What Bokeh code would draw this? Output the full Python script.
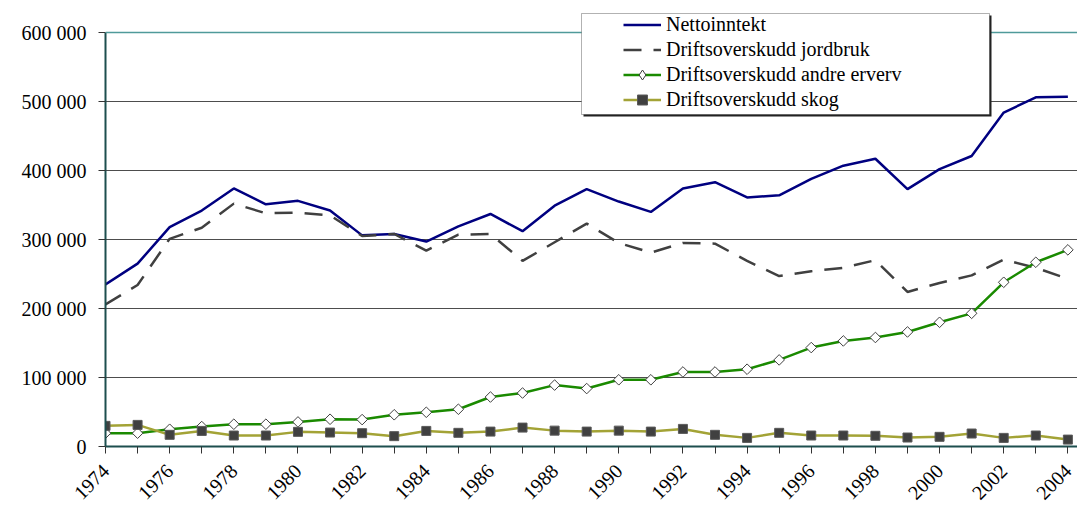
from math import pi
from bokeh.plotting import figure
from bokeh.models import (Range1d, FixedTicker, Span, Legend, LegendItem,
                          BoxAnnotation, ColumnDataSource)
from bokeh.embed import file_html
from bokeh.resources import INLINE

years = [1974, 1975, 1976, 1977, 1978, 1979, 1980, 1981, 1982, 1983, 1984,
         1985, 1986, 1987, 1988, 1989, 1990, 1991, 1992, 1993, 1994, 1995,
         1996, 1997, 1998, 1999, 2000, 2001, 2002, 2003, 2004]

nettoinntekt = [235000, 265000, 318000, 342000, 374000, 351000, 356000, 342000,
                306000, 308000, 297000, 319000, 337000, 312000, 349000, 373000,
                355000, 340000, 374000, 383000, 361000, 364000, 388000, 407000,
                417000, 373000, 402000, 421000, 484000, 506000, 507000]

jordbruk = [206000, 234000, 301000, 317000, 352000, 338000, 339000, 335000,
            305000, 308000, 284000, 307000, 308000, 269000, 296000, 323000,
            295000, 281000, 295000, 294000, 269000, 247000, 254000, 259000,
            270000, 224000, 237000, 248000, 271000, 259000, 243000]

andre_erverv = [19300, 19300, 25000, 28900, 32300, 32300, 35600, 39500, 39000,
                46000, 49600, 54000, 71700, 77500, 89000, 84000, 96700, 96700,
                108000, 108000, 112000, 125500, 143400, 153000, 158000, 166000,
                180000, 193000, 238000, 267000, 285000]

skog = [29900, 31300, 16900, 22600, 15900, 15900, 21200, 20200, 19300, 15000,
        22600, 19800, 21600, 27400, 23000, 21600, 23000, 21600, 25500, 16900,
        12500, 19800, 15900, 15900, 15500, 13000, 14000, 18800, 12500, 15900,
        10000]

series_names = ["Nettoinntekt", "Driftsoverskudd jordbruk",
                "Driftsoverskudd andre erverv", "Driftsoverskudd skog"]

y_ticks = [0, 100000, 200000, 300000, 400000, 500000, 600000]
y_tick_labels = ["0", "100 000", "200 000", "300 000", "400 000", "500 000", "600 000"]
x_tick_labels = ["1974", "1976", "1978", "1980", "1982", "1984", "1986", "1988",
                 "1990", "1992", "1994", "1996", "1998", "2000", "2002", "2004"]

FONT = "'Liberation Serif', 'Times New Roman', serif"
FSIZE = "20px"

src = ColumnDataSource(dict(year=years, netto=nettoinntekt, jord=jordbruk,
                            andre=andre_erverv, skog=skog))

# frame extends a little above 600 000 so the legend box (which rises above
# the plot area) is not clipped; a little room right of 2004 keeps its label in
p = figure(width=1077, height=508, x_range=Range1d(years[0], years[-1] + 0.3),
           y_range=Range1d(y_ticks[0], 629000),
           output_backend="svg", toolbar_location=None,
           min_border_left=105, min_border_right=0, min_border_top=12,
           min_border_bottom=60)
p.outline_line_color = None
p.background_fill_color = "white"
p.border_fill_color = "white"

# grid
p.xgrid.visible = False
p.ygrid.ticker = FixedTicker(ticks=y_ticks[1:-1])
p.ygrid.grid_line_color = "#4d4d4d"
p.ygrid.grid_line_width = 1

top_line = Span(location=y_ticks[-1], dimension="width", line_color="#4f9a9a",
                line_width=1.5)
p.add_layout(top_line)

# axes
p.yaxis.ticker = FixedTicker(ticks=y_ticks)
p.yaxis.bounds = (y_ticks[0], y_ticks[-1])
p.yaxis.major_label_overrides = dict(zip(y_ticks, y_tick_labels))
overrides = {yr: "" for yr in years}
for lab in x_tick_labels:
    overrides[int(lab)] = lab
p.xaxis.ticker = FixedTicker(ticks=years, minor_ticks=[])
p.xaxis.major_label_overrides = overrides
p.xaxis.major_label_orientation = pi / 4

for ax in (p.xaxis, p.yaxis):
    ax.axis_line_color = "#1d4f4f"
    ax.axis_line_width = 2
    ax.major_tick_line_color = "#333333"
    ax.major_tick_out = 7
    ax.major_tick_in = 0
    ax.minor_tick_line_color = None
    ax.major_label_text_font = FONT
    ax.major_label_text_font_size = FSIZE
    ax.major_label_text_color = "black"
p.yaxis.major_label_standoff = 12
p.xaxis.major_label_standoff = 14

# series
r1 = p.line("year", "netto", source=src, line_color="#000080", line_width=2.5)
r2 = p.line("year", "jord", source=src, line_color="#404040", line_width=2.5,
            line_dash="18 12")
r3 = p.line("year", "andre", source=src, line_color="#1a8a00", line_width=2.5)
r3m = p.scatter("year", "andre", source=src, marker="square", angle=pi / 4,
                size=7.5, fill_color="white", line_color="#404040", line_width=1)
# legend-only diamond (the legend swatch ignores marker rotation)
r3leg = p.scatter("year", "andre", source=src, marker="diamond", size=12,
                  fill_color="white", line_color="#404040", line_width=1,
                  visible=False)
r4 = p.line("year", "skog", source=src, line_color="#a3a336", line_width=2.5)
r4m = p.scatter("year", "skog", source=src, marker="square", size=9,
                fill_color="#404040", line_color="#5a5a5a", line_width=1)

# legend frame (with shadow)
shadow = BoxAnnotation(left=583, right=991, top=15, bottom=116,
                       left_units="canvas", right_units="canvas",
                       top_units="canvas", bottom_units="canvas",
                       fill_color="#222222", fill_alpha=1, line_color=None)
box = BoxAnnotation(left=581, right=989, top=13, bottom=114,
                    left_units="canvas", right_units="canvas",
                    top_units="canvas", bottom_units="canvas",
                    fill_color="white", fill_alpha=1, line_color="black",
                    line_width=1)
p.add_layout(shadow)
p.add_layout(box)

legend = Legend(items=[
    LegendItem(label=series_names[0], renderers=[r1]),
    LegendItem(label=series_names[1], renderers=[r2]),
    LegendItem(label=series_names[2], renderers=[r3, r3leg]),
    LegendItem(label=series_names[3], renderers=[r4, r4m]),
], location=(518, 334), orientation="vertical", padding=0, spacing=0, margin=0,
    glyph_width=38, glyph_height=25, label_height=25, label_standoff=5,
    border_line_color=None, background_fill_alpha=0,
    inactive_fill_alpha=0,
    label_text_font=FONT, label_text_font_size=FSIZE, label_text_color="black")
p.add_layout(legend)

open("out.html", "w").write(file_html(p, INLINE))
